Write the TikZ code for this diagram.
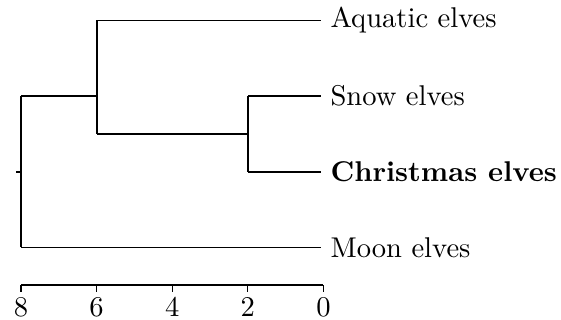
\documentclass[tikz,border=0pt]{standalone}
\begin{document}
\begin{tikzpicture}[x=0.35pt,y=-0.35pt,
  branch/.style={line width=0.4pt},
  leaflabel/.style={anchor=west,inner sep=3.33pt},
  ticklabel/.style={anchor=north,inner sep=0pt}]
\useasboundingbox (0,0) rectangle (561,320);
% leaf ends
\coordinate (la) at (320.5,20.5);
\coordinate (ls) at (320.5,96);
\coordinate (lc) at (320.5,172);
\coordinate (lm) at (320.5,247.5);
% internal nodes
\coordinate (n2top) at (248,96);
\coordinate (n2bot) at (248,172);
\coordinate (n2) at (248,134);
\coordinate (n6top) at (97,20.5);
\coordinate (n6bot) at (97,134);
\coordinate (n6) at (97,96);
\coordinate (rtop) at (21,96);
\coordinate (rbot) at (21,247.5);
\coordinate (r) at (21,172);
\coordinate (rstub) at (16,172);
% labels
\node[leaflabel] (A) at (la) {Aquatic elves};
\node[leaflabel] (S) at (ls) {Snow elves};
\node[leaflabel] (C) at (lc) {\textbf{Christmas elves}};
\node[leaflabel] (M) at (lm) {Moon elves};
% branches
\draw[branch] (n2top) -- (ls);
\draw[branch] (n2bot) -- (lc);
\draw[branch] (n2top) -- (n2bot);
\draw[branch] (n6bot) -- (n2);
\draw[branch] (n6top) -- (la);
\draw[branch] (n6top) -- (n6bot);
\draw[branch] (rtop) -- (n6);
\draw[branch] (rbot) -- (lm);
\draw[branch] (rtop) -- (rbot);
\draw[branch] (rstub) -- (r);
% axis
\coordinate (ax8) at (21,285);
\coordinate (ax6) at (96.6,285);
\coordinate (ax4) at (172.2,285);
\coordinate (ax2) at (247.8,285);
\coordinate (ax0) at (323.4,285);
\draw[branch] (ax8) -- (ax0);
\foreach \p/\t in {ax8/8,ax6/6,ax4/4,ax2/2,ax0/0}{
  \draw[branch] (\p) -- ++(0,7) coordinate (\p t);
  \node[ticklabel] (\p l) at ([yshift=-1.6pt]\p t) {\t};
}
\end{tikzpicture}
\end{document}
